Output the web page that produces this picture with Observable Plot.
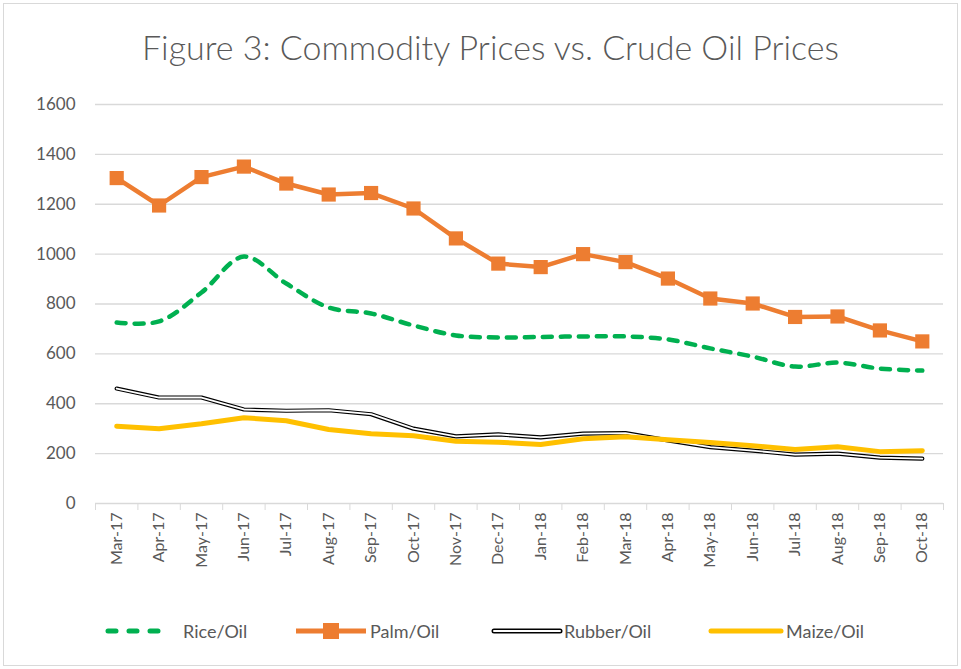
<!DOCTYPE html>
<html><head><meta charset="utf-8">
<script src="https://cdn.jsdelivr.net/npm/d3@7"></script>
<script src="https://cdn.jsdelivr.net/npm/@observablehq/plot@0.6"></script>
<style>
body{margin:0;background:#fff;}
#chart{position:relative;width:961px;height:669px;font-family:Lato,"Open Sans",sans-serif;color:#595959;overflow:hidden;}
#frame{position:absolute;left:3px;top:3px;width:953px;height:661px;border:1px solid #d9d9d9;pointer-events:none;}
#title{height:90px;box-sizing:border-box;padding-top:25px;padding-left:20px;text-align:center;font-size:34px;font-weight:300;line-height:44px;}
#plot svg{display:block;}
#legend{position:relative;height:79px;font-size:18px;}
.item{position:absolute;top:30px;height:22px;display:flex;align-items:center;}
.item svg{display:block;}
</style></head>
<body>
<div id="chart">
  <div id="frame"></div>
  <div id="title">Figure 3: Commodity Prices vs. Crude Oil Prices</div>
  <div id="plot"></div>
  <div id="legend"></div>
</div>
<script>
const months = ["Mar-17","Apr-17","May-17","Jun-17","Jul-17","Aug-17","Sep-17","Oct-17","Nov-17","Dec-17","Jan-18","Feb-18","Mar-18","Apr-18","May-18","Jun-18","Jul-18","Aug-18","Sep-18","Oct-18"];
const rice   = [726,730,846,990,882,786,762,714,674,666,668,670,670,658,622,589,549,565,541,533];
const palm   = [1305,1195,1309,1351,1283,1239,1245,1183,1063,962,948,1000,968,902,822,802,748,750,694,650];
const rubber = [461,425,425,377,372,374,358,300,269,277,265,280,282,253,226,212,196,200,184,180];
const maize  = [310,300,320,344,332,297,280,272,250,246,237,260,268,256,245,232,217,228,208,212];
const yTicks = [0,200,400,600,800,1000,1200,1400,1600];
const seriesNames = ["Rice/Oil","Palm/Oil","Rubber/Oil","Maize/Oil"];

const rows = months.map((m, i) => ({i: i + 0.5, m, rice: rice[i], palm: palm[i], rubber: rubber[i], maize: maize[i]}));
const bounds = d3.range(months.length + 1);

const chart = Plot.plot({
  width: 961, height: 500,
  marginTop: 14, marginBottom: 87, marginLeft: 95, marginRight: 18,
  x: {domain: [0, months.length], axis: null, label: null},
  y: {domain: [0, 1600], axis: null, label: null},
  style: {fontFamily: "Lato, 'Open Sans', sans-serif", fontSize: "16px", color: "#595959", background: "transparent", overflow: "visible"},
  marks: [
    Plot.gridY(yTicks, {stroke: "#d9d9d9", strokeOpacity: 1, strokeWidth: 1.3}),
    Plot.axisY(yTicks, {tickSize: 0, tickPadding: 20, fontSize: 17, fill: "#595959", label: null, tickFormat: d => String(d)}),
    Plot.axisX(bounds, {tickSize: 7, stroke: "#d9d9d9", strokeOpacity: 1, label: null, tickFormat: () => ""}),
    Plot.axisX(rows.map(d => d.i), {tickSize: 0, tickRotate: -90, tickPadding: 9, fontSize: 16, fill: "#595959", label: null, tickFormat: v => months[Math.floor(v)]}),
    Plot.lineY(rows, {x: "i", y: "rice", stroke: "#00B050", strokeWidth: 4.5, strokeDasharray: "9,9", strokeLinecap: "round", curve: "catmull-rom"}),
    Plot.lineY(rows, {x: "i", y: "palm", stroke: "#ED7D31", strokeWidth: 4.5, strokeLinejoin: "round"}),
    Plot.dot(rows, {x: "i", y: "palm", symbol: "square", r: 8, fill: "#ED7D31", stroke: "none"}),
    Plot.lineY(rows, {x: "i", y: "rubber", stroke: "#000", strokeWidth: 4.2, strokeLinecap: "round", strokeLinejoin: "round"}),
    Plot.lineY(rows, {x: "i", y: "rubber", stroke: "#fff", strokeWidth: 1.8, strokeLinecap: "round", strokeLinejoin: "round"}),
    Plot.lineY(rows, {x: "i", y: "maize", stroke: "#FFC000", strokeWidth: 5, strokeLinejoin: "round", strokeLinecap: "round"})
  ]
});
document.getElementById("plot").appendChild(chart);

// legend
const legend = document.getElementById("legend");
const sym = [
  `<svg width="68" height="20"><line x1="4" y1="10" x2="64" y2="10" stroke="#00B050" stroke-width="5" stroke-dasharray="8,13" stroke-linecap="round"/></svg>`,
  `<svg width="74" height="20"><line x1="2" y1="10" x2="72" y2="10" stroke="#ED7D31" stroke-width="5"/><rect x="29" y="2" width="16" height="16" fill="#ED7D31"/></svg>`,
  `<svg width="74" height="20"><line x1="4" y1="10" x2="70" y2="10" stroke="#000" stroke-width="5" stroke-linecap="round"/><line x1="4" y1="10" x2="70" y2="10" stroke="#fff" stroke-width="2" stroke-linecap="round"/></svg>`,
  `<svg width="76" height="20"><line x1="3" y1="10" x2="73" y2="10" stroke="#FFC000" stroke-width="5" stroke-linecap="round"/></svg>`
];
const lefts = [104, 294, 490, 708];
const gaps = [11, 2, 0, 2];
seriesNames.forEach((name, k) => {
  const d = document.createElement("div");
  d.className = "item";
  d.style.left = lefts[k] + "px";
  d.innerHTML = sym[k] + `<span style="margin-left:${gaps[k]}px">${name}</span>`;
  legend.appendChild(d);
});
</script>
</body></html>
